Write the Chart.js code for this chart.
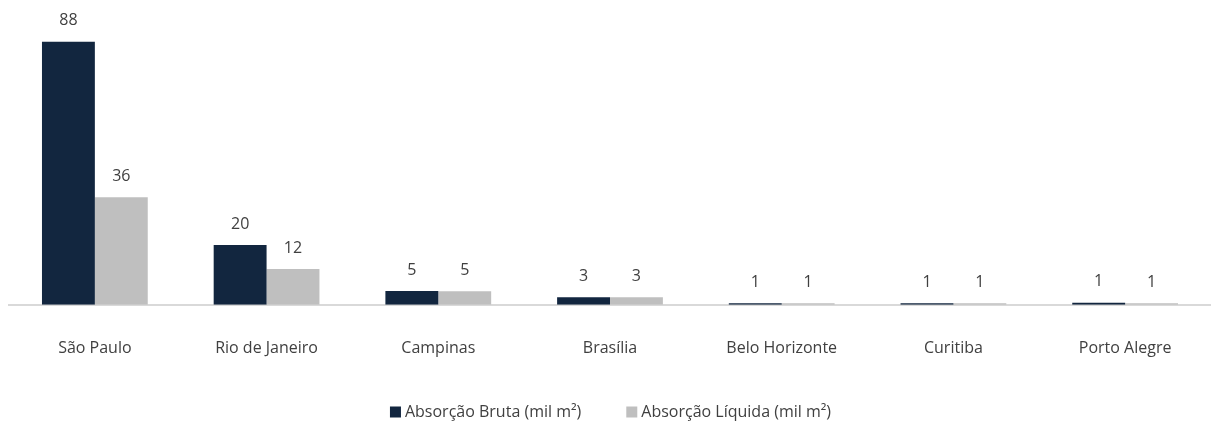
<!DOCTYPE html>
<html>
<head>
<meta charset="utf-8">
<script src="https://cdn.jsdelivr.net/npm/chart.js@4"></script>
<style>
  html, body { margin: 0; padding: 0; background: #fff; }
  #wrap { width: 1211px; height: 427px; }
</style>
</head>
<body>
<div id="wrap"><canvas id="absChart" width="1211" height="427"></canvas></div>
<script>
const cidades = ["São Paulo", "Rio de Janeiro", "Campinas", "Brasília", "Belo Horizonte", "Curitiba", "Porto Alegre"];
const absorcaoBruta = [88, 20, 4.6, 2.5, 0.5, 0.5, 0.7];
const absorcaoLiquida = [36, 12, 4.5, 2.5, 0.5, 0.5, 0.5];

const corBruta = "#12263f";
const corLiquida = "#bfbfbf";
const corTexto = "#404040";
const fonte = "16px 'Open Sans'";

// rótulos de valor acima das barras
const rotulos = {
    id: "rotulos",
    afterDatasetsDraw(chart) {
        const ctx = chart.ctx;
        ctx.save();
        ctx.font = fonte;
        ctx.fillStyle = corTexto;
        ctx.textAlign = "center";
        ctx.textBaseline = "middle";
        chart.data.datasets.forEach((ds, i) => {
            chart.getDatasetMeta(i).data.forEach((bar, j) => {
                ctx.fillText(Math.round(ds.data[j]), bar.x, bar.y - 21);
            });
        });
        ctx.restore();
    }
};

// legenda desenhada à mão (espaçamento igual ao Excel)
const legenda = {
    id: "legenda",
    afterDraw(chart) {
        const ctx = chart.ctx;
        ctx.save();
        ctx.font = fonte;
        ctx.textBaseline = "middle";
        const box = 11, gapTexto = 4, gapItem = 45, y = 412;
        const itens = chart.data.datasets.map(ds => ({
            texto: ds.label, cor: ds.backgroundColor, w: ctx.measureText(ds.label).width
        }));
        let total = 0;
        itens.forEach((it, i) => { total += box + gapTexto + it.w + (i > 0 ? gapItem : 0); });
        let x = (chart.width - total) / 2 + 5;
        itens.forEach(it => {
            ctx.fillStyle = it.cor;
            ctx.fillRect(x, y - box / 2, box, box);
            ctx.fillStyle = corTexto;
            ctx.fillText(it.texto, x + box + gapTexto, y);
            x += box + gapTexto + it.w + gapItem;
        });
        ctx.restore();
    }
};

new Chart(document.getElementById("absChart"), {
    type: "bar",
    data: {
        labels: cidades,
        datasets: [
            { label: "Absorção Bruta (mil m²)", data: absorcaoBruta, backgroundColor: corBruta },
            { label: "Absorção Líquida (mil m²)", data: absorcaoLiquida, backgroundColor: corLiquida }
        ]
    },
    options: {
        responsive: false,
        animation: false,
        layout: { padding: { left: 9, right: 0, top: 6, bottom: 43 } },
        datasets: { bar: { categoryPercentage: 0.616, barPercentage: 1 } },
        scales: {
            x: {
                grid: { display: false },
                border: { color: "#d9d9d9", width: 2 },
                ticks: { color: corTexto, font: { family: "Open Sans", size: 16 }, padding: 26, maxRotation: 0 }
            },
            y: { display: false, min: 0, max: 100 }
        },
        plugins: {
            legend: { display: false },
            tooltip: { enabled: false }
        }
    },
    plugins: [rotulos, legenda]
});
</script>
</body>
</html>
